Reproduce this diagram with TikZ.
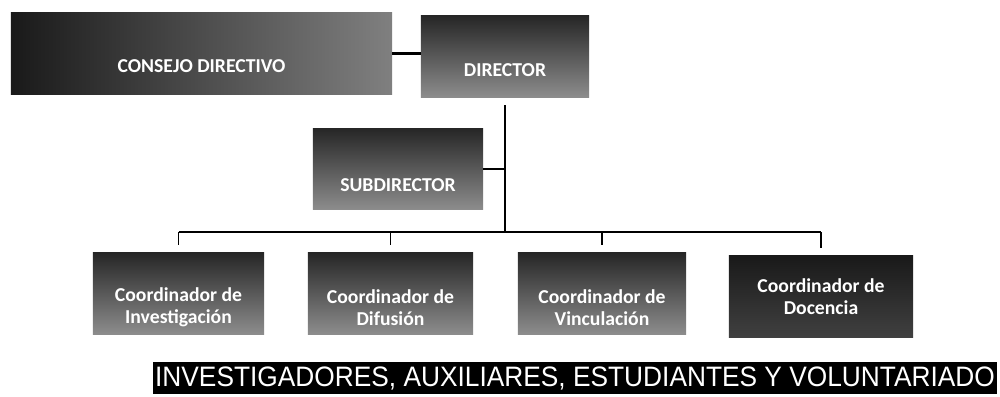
\documentclass[tikz,border=0pt]{standalone}
\usepackage{fontspec}
\setmainfont{Carlito}
\newfontfamily\bannerfont{Liberation Sans}
\begin{document}
\begin{tikzpicture}[x=0.025cm, y=-0.025cm,
        unit/.style={minimum height=2.025cm, inner sep=0pt, top color=black!85, bottom color=black!45},
        unittext/.style={text=white, font=\bfseries\fontsize{14}{15.5}\selectfont, align=center, inner sep=0pt},
        conn/.style={line width=1.4pt}]
    \useasboundingbox (0,0) rectangle (1000,396);

    % Direction
    \node[unit, minimum width=9.525cm, left color=black!90, right color=black!50] (consejo) at (201.5,53.5) {};
    \node[unittext] (consejo-t) at ([yshift=-0.31cm]consejo.center) {CONSEJO DIRECTIVO};
    \node[unit, minimum width=4.2cm] (director) at (505,56.5) {};
    \node[unittext] (director-t) at ([yshift=-0.35cm]director.center) {DIRECTOR};
    \node[unit, minimum width=4.25cm] (subdirector) at (398,169) {};
    \node[unittext] (subdirector-t) at ([yshift=-0.4cm]subdirector.center) {SUBDIRECTOR};

    % Coordinators
    \node[unit, minimum width=4.275cm] (investigacion) at (178.5,293.5) {};
    \node[unittext] (investigacion-t) at ([yshift=-0.35cm]investigacion.center) {Coordinador de\\Investigación};
    \node[unit, minimum width=4.125cm] (difusion) at (390.5,293.5) {};
    \node[unittext] (difusion-t) at ([yshift=-0.35cm]difusion.center) {Coordinador de\\Difusión};
    \node[unit, minimum width=4.2cm] (vinculacion) at (602,293.5) {};
    \node[unittext] (vinculacion-t) at ([yshift=-0.35cm]vinculacion.center) {Coordinador de\\Vinculación};
    \node[unit, minimum width=4.6cm, top color=black!90, bottom color=black!75] (docencia) at (821,296.5) {};
    \node[unittext] (docencia-t) at (docencia.center) {Coordinador de\\Docencia};

    % Staff
    \node[fill=black, text=white, inner sep=0pt, minimum width=21.1cm, minimum height=0.8cm,
        font=\bannerfont\fontsize{20}{21}\selectfont] (staff) at (575,378)
        {\scalebox{0.935}[1]{INVESTIGADORES, AUXILIARES, ESTUDIANTES Y VOLUNTARIADO}};

    % Connectors
    \coordinate (bus) at (505,232);
    \draw[line width=2.8pt] (consejo.east) -- (consejo.east -| director.west);
    \draw[conn] ([yshift=-0.2cm]director.south) -- (bus);
    \draw[conn] (subdirector.east) -- (subdirector.east -| bus);
    \draw[conn] (bus -| investigacion) -- (bus -| docencia);
    \foreach \n in {investigacion, difusion, vinculacion, docencia}
        \draw[conn] (bus -| \n) -- ([yshift=0.2cm]\n.north);
\end{tikzpicture}
\end{document}
